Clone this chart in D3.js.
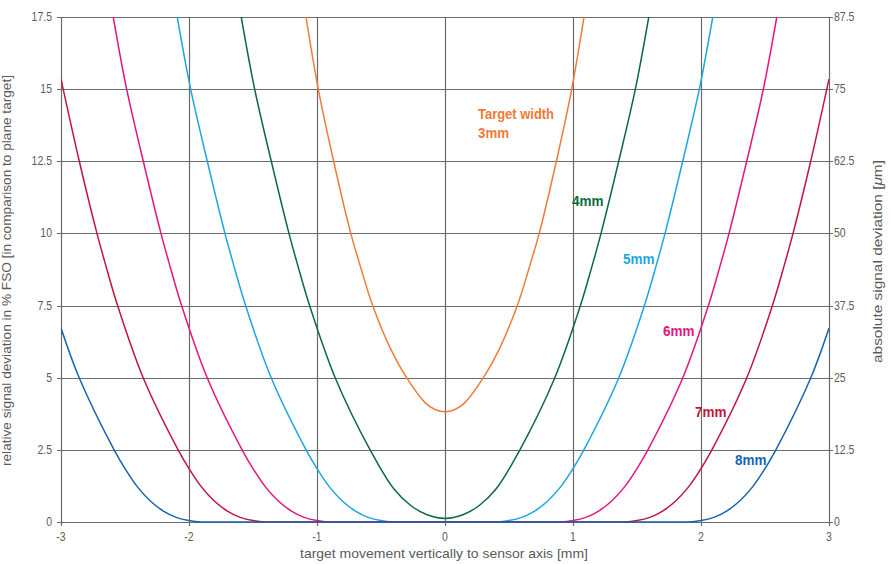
<!DOCTYPE html>
<html>
<head>
<meta charset="utf-8">
<script src="https://cdn.jsdelivr.net/npm/d3@7/dist/d3.min.js"></script>
<style>
  body { margin: 0; background: #fff; }
  svg text { font-family: "Liberation Sans", Arial, sans-serif; }
  .tick-lbl { fill: #5a5a5a; font-size: 12.5px; }
  .title { fill: #5a5a5a; font-size: 13.5px; }
  .curve-lbl { font-weight: bold; font-size: 14px; }
</style>
</head>
<body>
<div id="chart"></div>
<script>
// x ticks (mm) and y ticks (% FSO / um)
var xTicks = [-3, -2, -1, 0, 1, 2, 3];
var yTicks = [0, 2.5, 5, 7.5, 10, 12.5, 15, 17.5];
var yTicksRight = ["0", "12.5", "25", "37.5", "50", "62.5", "75", "87.5"];

// curves: [x mm, deviation %]
var w3mm = [[-1.086,17.5],[-0.99,15],[-0.87,12.5],[-0.736,10],[-0.665,8.92],[-0.565,7.5],[-0.425,6.0],[-0.3,5],[-0.152,4.12],[-0.078,3.9],[0,3.82],
            [0.078,3.9],[0.152,4.12],[0.3,5],[0.425,6.0],[0.565,7.5],[0.665,8.92],[0.736,10],[0.87,12.5],[0.99,15],[1.086,17.5]];
var w4mm = [[-1.592,17.5],[-1.487,15],[-1.357,12.5],[-1.219,10],[-1.152,8.92],[-1.058,7.5],[-0.858,5],[-0.585,2.5],[-0.4,1.15],[-0.27,0.58],[-0.14,0.25],[0,0.125],
            [0.14,0.25],[0.27,0.58],[0.4,1.15],[0.585,2.5],[0.858,5],[1.058,7.5],[1.152,8.92],[1.219,10],[1.357,12.5],[1.487,15],[1.592,17.5]];
var w5mm = [[-2.092,17.5],[-1.987,15],[-1.857,12.5],[-1.719,10],[-1.652,8.92],[-1.558,7.5],[-1.358,5],[-1.085,2.5],[-1.0,1.85],[-0.9,1.2],[-0.8,0.72],[-0.7,0.38],[-0.6,0.16],[-0.5,0.05],[-0.4,0],[-0.3,0],
            [0.3,0],[0.4,0],[0.5,0.05],[0.6,0.16],[0.7,0.38],[0.8,0.72],[0.9,1.2],[1.0,1.85],[1.085,2.5],[1.358,5],[1.558,7.5],[1.652,8.92],[1.719,10],[1.857,12.5],[1.987,15],[2.092,17.5]];
var w6mm = [[-2.592,17.5],[-2.487,15],[-2.357,12.5],[-2.219,10],[-2.152,8.92],[-2.058,7.5],[-1.858,5],[-1.585,2.5],[-1.5,1.85],[-1.4,1.2],[-1.3,0.72],[-1.2,0.38],[-1.1,0.16],[-1.0,0.05],[-0.9,0],[-0.8,0],
            [0.8,0],[0.9,0],[1.0,0.05],[1.1,0.16],[1.2,0.38],[1.3,0.72],[1.4,1.2],[1.5,1.85],[1.585,2.5],[1.858,5],[2.058,7.5],[2.152,8.92],[2.219,10],[2.357,12.5],[2.487,15],[2.592,17.5]];
var w7mm = [[-3,15.35],[-2.857,12.5],[-2.719,10],[-2.652,8.92],[-2.558,7.5],[-2.358,5],[-2.085,2.5],[-2.0,1.85],[-1.9,1.2],[-1.8,0.72],[-1.7,0.38],[-1.6,0.16],[-1.5,0.05],[-1.4,0],[-1.3,0],
            [1.3,0],[1.4,0],[1.5,0.05],[1.6,0.16],[1.7,0.38],[1.8,0.72],[1.9,1.2],[2.0,1.85],[2.085,2.5],[2.358,5],[2.558,7.5],[2.652,8.92],[2.719,10],[2.857,12.5],[3,15.35]];
var w8mm = [[-3,6.72],[-2.858,5],[-2.585,2.5],[-2.5,1.85],[-2.4,1.2],[-2.3,0.72],[-2.2,0.38],[-2.1,0.16],[-2.0,0.05],[-1.9,0],[-1.8,0],
            [1.8,0],[1.9,0],[2.0,0.05],[2.1,0.16],[2.2,0.38],[2.3,0.72],[2.4,1.2],[2.5,1.85],[2.585,2.5],[2.858,5],[3,6.72]];

var series = [
    {name: "3mm", values: w3mm, color: "#ee7b38"},
    {name: "4mm", values: w4mm, color: "#0b6a3b"},
    {name: "5mm", values: w5mm, color: "#1aa6e0"},
    {name: "6mm", values: w6mm, color: "#e3167f"},
    {name: "7mm", values: w7mm, color: "#c2143b"},
    {name: "8mm", values: w8mm, color: "#1565ae"}
];

// curve labels, anchored at the baseline start (data units)
var labels = [
    {text: ["Target width", "3mm"], len: [76, 31], x: 0.258, y: 13.96, color: "#ee7b38"},
    {text: ["4mm"], len: [31.5], x: 0.992, y: 10.96, color: "#0b6a3b"},
    {text: ["5mm"], len: [31.5], x: 1.39, y: 8.95, color: "#1aa6e0"},
    {text: ["6mm"], len: [31.5], x: 1.703, y: 6.46, color: "#e3167f"},
    {text: ["7mm"], len: [31.5], x: 1.953, y: 3.65, color: "#c2143b"},
    {text: ["8mm"], len: [31.5], x: 2.266, y: 1.96, color: "#1565ae"}
];

var margin = {top: 17, right: 62, bottom: 42, left: 61};
var W = 891, H = 564;
var width = W - margin.left - margin.right;
var height = H - margin.top - margin.bottom;

var x = d3.scaleLinear().domain([-3, 3]).range([0, width]);
var y = d3.scaleLinear().domain([0, 17.5]).range([height, 0]);

var svg = d3.select("#chart").append("svg")
    .attr("width", W)
    .attr("height", H);

var g = svg.append("g")
    .attr("transform", "translate(" + margin.left + "," + margin.top + ")");

svg.append("defs").append("clipPath").attr("id", "plot")
    .append("rect").attr("x", 0).attr("y", 0).attr("width", width).attr("height", height + 2);

var gridColor = "#6b6b6b";
var sx = 0.84; // horizontal squeeze, the original uses a condensed face

// horizontal grid + left/right tick marks
g.append("g").selectAll("line").data(yTicks).enter().append("line")
    .attr("x1", -4).attr("x2", width + 4)
    .attr("y1", function(d){ return Math.round(y(d)) + 0.5; })
    .attr("y2", function(d){ return Math.round(y(d)) + 0.5; })
    .attr("stroke", gridColor).attr("stroke-width", 1.2);

// vertical grid + bottom tick marks
g.append("g").selectAll("line").data(xTicks).enter().append("line")
    .attr("y1", 0).attr("y2", height + 4)
    .attr("x1", function(d){ return Math.round(x(d)) + 0.5; })
    .attr("x2", function(d){ return Math.round(x(d)) + 0.5; })
    .attr("stroke", gridColor).attr("stroke-width", 1.2);

// left tick labels
g.append("g").selectAll("text").data(yTicks).enter().append("text")
    .attr("class", "tick-lbl")
    .attr("text-anchor", "end")
    .attr("transform", function(d){ return "translate(-9," + (y(d) + 4) + ") scale(" + sx + ",1)"; })
    .text(function(d){ return d; });

// right tick labels (um)
g.append("g").selectAll("text").data(yTicks).enter().append("text")
    .attr("class", "tick-lbl")
    .attr("transform", function(d){ return "translate(" + (width + 5) + "," + (y(d) + 4) + ") scale(" + sx + ",1)"; })
    .text(function(d, i){ return yTicksRight[i]; });

// bottom tick labels
g.append("g").selectAll("text").data(xTicks).enter().append("text")
    .attr("class", "tick-lbl")
    .attr("text-anchor", "middle")
    .attr("transform", function(d){ return "translate(" + x(d) + "," + (height + 19) + ") scale(" + sx + ",1)"; })
    .text(function(d){ return d; });

// curves
var line = d3.line()
    .x(function(d){ return x(d[0]); })
    .y(function(d){ return y(d[1]); })
    .curve(d3.curveCatmullRom.alpha(0.5));

g.append("g").attr("clip-path", "url(#plot)")
    .selectAll("path").data(series).enter().append("path")
    .attr("d", function(d){ return line(d.values); })
    .attr("fill", "none")
    .attr("stroke", function(d){ return d.color; })
    .attr("stroke-width", 1.5);

// curve labels
labels.forEach(function(l){
    l.text.forEach(function(s, i){
        g.append("text")
            .attr("class", "curve-lbl")
            .attr("fill", l.color)
            .attr("x", x(l.x)).attr("y", y(l.y) + i * 19)
            .attr("textLength", l.len[i])
            .attr("lengthAdjust", "spacingAndGlyphs")
            .text(s);
    });
});

// axis titles (positions given in page pixels)
svg.append("text").attr("class", "title")
    .attr("transform", "translate(11,270.5) rotate(-90)")
    .attr("x", -195.5).attr("y", 0)
    .attr("textLength", 391).attr("lengthAdjust", "spacingAndGlyphs")
    .text("relative signal deviation in % FSO [in comparison to plane target]");

svg.append("text").attr("class", "title")
    .attr("transform", "translate(882,261.5) rotate(-90)")
    .attr("x", -101.5).attr("y", 0)
    .attr("textLength", 203).attr("lengthAdjust", "spacingAndGlyphs")
    .html("absolute signal deviation [<tspan font-style=\"italic\">μ</tspan>m]");

svg.append("text").attr("class", "title")
    .attr("x", 300).attr("y", 558)
    .attr("textLength", 288).attr("lengthAdjust", "spacingAndGlyphs")
    .text("target movement vertically to sensor axis [mm]");
</script>
</body>
</html>
